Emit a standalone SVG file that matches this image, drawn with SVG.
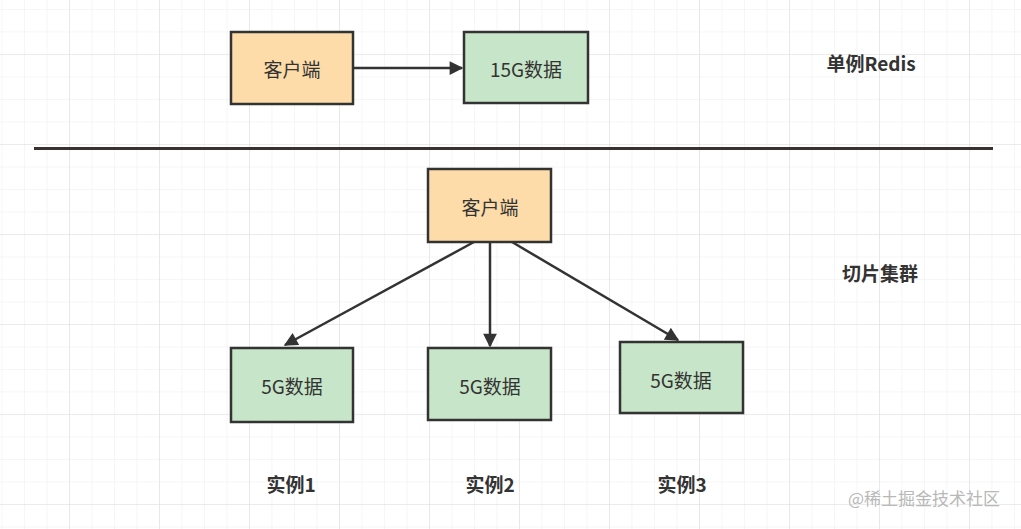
<svg xmlns="http://www.w3.org/2000/svg" width="1021" height="529" viewBox="0 0 1021 529">
  <defs>
    <pattern id="minor" x="1.5" y="9" width="22.5" height="22.5" patternUnits="userSpaceOnUse">
      <path d="M0 0H22.5M0 0V22.5" fill="none" stroke="#ededed" stroke-width="1"/>
    </pattern>
    <pattern id="major" x="69" y="54" width="90" height="90" patternUnits="userSpaceOnUse">
      <path d="M0 0H90M0 0V90" fill="none" stroke="#dfdfdf" stroke-width="1.2"/>
    </pattern>
    <marker id="arrow" viewBox="0 0 10 10" refX="9" refY="5" markerWidth="6.5" markerHeight="5.5" markerUnits="strokeWidth" orient="auto">
      <path d="M0 0L10 5L0 10Z" fill="#333"/>
    </marker>
    <style>
      .client rect { fill: #fddcaa; stroke: #333; stroke-width: 2.5; }
      .data rect { fill: #c7e5c8; stroke: #333; stroke-width: 2.5; }
      .lbl { font-family: "Noto Sans CJK SC", "Liberation Sans", sans-serif; font-size: 19px; fill: #333; text-anchor: middle; dominant-baseline: central; }
      .title { font-family: "Noto Sans CJK SC", "Liberation Sans", sans-serif; font-size: 19px; font-weight: bold; fill: #333; text-anchor: middle; dominant-baseline: central; }
      .edge { stroke: #333; stroke-width: 2.5; fill: none; marker-end: url(#arrow); }
    </style>
  </defs>
  <rect width="1021" height="529" fill="#ffffff"/>
  <rect width="1021" height="529" fill="url(#minor)"/>
  <rect width="1021" height="529" fill="url(#major)"/>

  <g id="connectors">
    <line class="edge" x1="354" y1="68" x2="462" y2="68"/>
    <line class="edge" x1="474" y1="242" x2="285" y2="345"/>
    <line class="edge" x1="490" y1="242" x2="490" y2="346"/>
    <line class="edge" x1="512" y1="242" x2="678" y2="340"/>
  </g>

  <line id="divider" x1="34" y1="148.5" x2="993" y2="148.5" stroke="#3a3232" stroke-width="3"/>

  <g id="client-top" class="client">
    <rect x="231" y="32" width="122" height="72"/>
    <text class="lbl" x="292" y="68">客户端</text>
  </g>
  <g id="data-15g" class="data">
    <rect x="464" y="32" width="124" height="71"/>
    <text class="lbl" x="526" y="68">15G数据</text>
  </g>
  <g id="label-single">
    <text class="title" x="871" y="62">单例Redis</text>
  </g>

  <g id="client-cluster" class="client">
    <rect x="428" y="169" width="123" height="73"/>
    <text class="lbl" x="490" y="206">客户端</text>
  </g>
  <g id="label-cluster">
    <text class="title" x="880" y="272">切片集群</text>
  </g>

  <g id="data-1" class="data">
    <rect x="231" y="348" width="122" height="74"/>
    <text class="lbl" x="292" y="385">5G数据</text>
  </g>
  <g id="data-2" class="data">
    <rect x="428" y="348" width="123" height="72"/>
    <text class="lbl" x="490" y="385">5G数据</text>
  </g>
  <g id="data-3" class="data">
    <rect x="620" y="342" width="123" height="71"/>
    <text class="lbl" x="681" y="379">5G数据</text>
  </g>

  <g id="label-inst1"><text class="title" x="291" y="483">实例1</text></g>
  <g id="label-inst2"><text class="title" x="490" y="483">实例2</text></g>
  <g id="label-inst3"><text class="title" x="682" y="483">实例3</text></g>

  <text x="924" y="497" font-family="Noto Sans CJK SC, Liberation Sans, sans-serif" font-size="17" fill="#b8b8b8" text-anchor="middle" dominant-baseline="central">@稀土掘金技术社区</text>
</svg>
